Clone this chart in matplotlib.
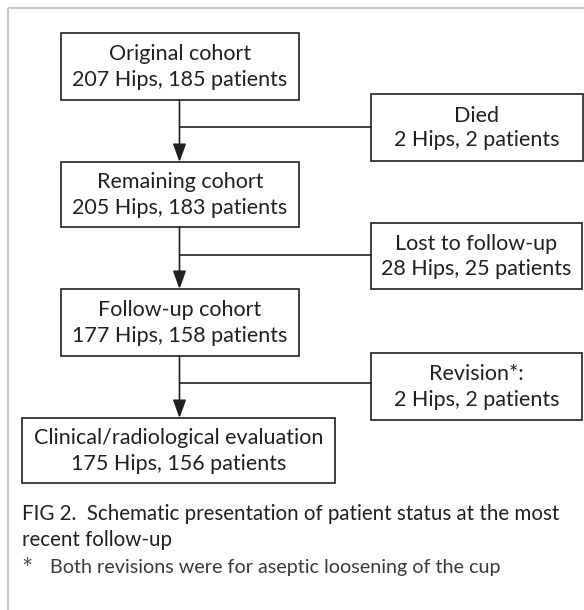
import matplotlib.pyplot as plt
from matplotlib.patches import Rectangle

# Flow chart data
main_steps = ['Original cohort', 'Remaining cohort', 'Follow-up cohort',
              'Clinical/radiological evaluation']
main_hips = [207, 205, 177, 175]
main_patients = [185, 183, 158, 156]

side_steps = ['Died', 'Lost to follow-up', 'Revision*:']
side_hips = [2, 28, 2]
side_patients = [2, 25, 2]

caption = 'FIG 2.  Schematic presentation of patient status at the most\nrecent follow-up'
footnote = 'Both revisions were for aseptic loosening of the cup'

plt.rcParams['font.family'] = ['Lato', 'DejaVu Sans']
ink = '#231f20'

fig = plt.figure(figsize=(5.84, 6.10), dpi=100)
ax = fig.add_axes([0, 0, 1, 1])
ax.set_xlim(0, 584)
ax.set_ylim(610, 0)
ax.axis('off')

# light grey frame (top and left only, the rest is cropped)
ax.plot([8, 584], [7.5, 7.5], color='#c8c8c8', lw=1.4, solid_capstyle='butt')
ax.plot([8, 8], [7.5, 610], color='#c8c8c8', lw=1.4, solid_capstyle='butt')

# layout in pixels
main_boxes = [(61, 33, 299, 100), (61, 162, 299, 227),
              (61, 289, 299, 356), (22, 418, 335, 483)]
side_boxes = [(371, 94, 583, 161), (371, 223, 582, 289), (371, 353, 582, 420)]
link_y = [127, 255, 383]
cx = 179.5


def box(b, title, hips, pats):
    x0, y0, x1, y1 = b
    ax.add_patch(Rectangle((x0, y0), x1 - x0, y1 - y0, fill=False,
                           ec=ink, lw=1.2))
    ax.text((x0 + x1) / 2, (y0 + y1) / 2 - 12, title, ha='center',
            va='center', fontsize=15.5, color=ink)
    ax.text((x0 + x1) / 2, (y0 + y1) / 2 + 13,
            f'{hips} Hips, {pats} patients', ha='center', va='center',
            fontsize=15.5, color=ink)


for i in range(len(main_steps)):
    box(main_boxes[i], main_steps[i], main_hips[i], main_patients[i])

for i in range(len(side_steps)):
    box(side_boxes[i], side_steps[i], side_hips[i], side_patients[i])
    # arrow down to the next main box
    ax.annotate('', xy=(cx, main_boxes[i + 1][1]), xytext=(cx, main_boxes[i][3]),
                arrowprops=dict(arrowstyle='-|>,head_length=1.1,head_width=0.4',
                                color=ink, lw=1.2, shrinkA=0, shrinkB=0))
    ax.plot([cx, side_boxes[i][0]], [link_y[i], link_y[i]], color=ink, lw=1.2)

ax.text(22, 527, caption, ha='left', va='center', fontsize=14.8, color=ink,
        linespacing=1.35)
ax.text(21, 570, '*', ha='left', va='center', fontsize=19, color='#555555')
ax.text(50, 567, footnote, ha='left', va='center', fontsize=14.2, color='#3a3a3a')

fig.savefig('out.png', dpi=100)
